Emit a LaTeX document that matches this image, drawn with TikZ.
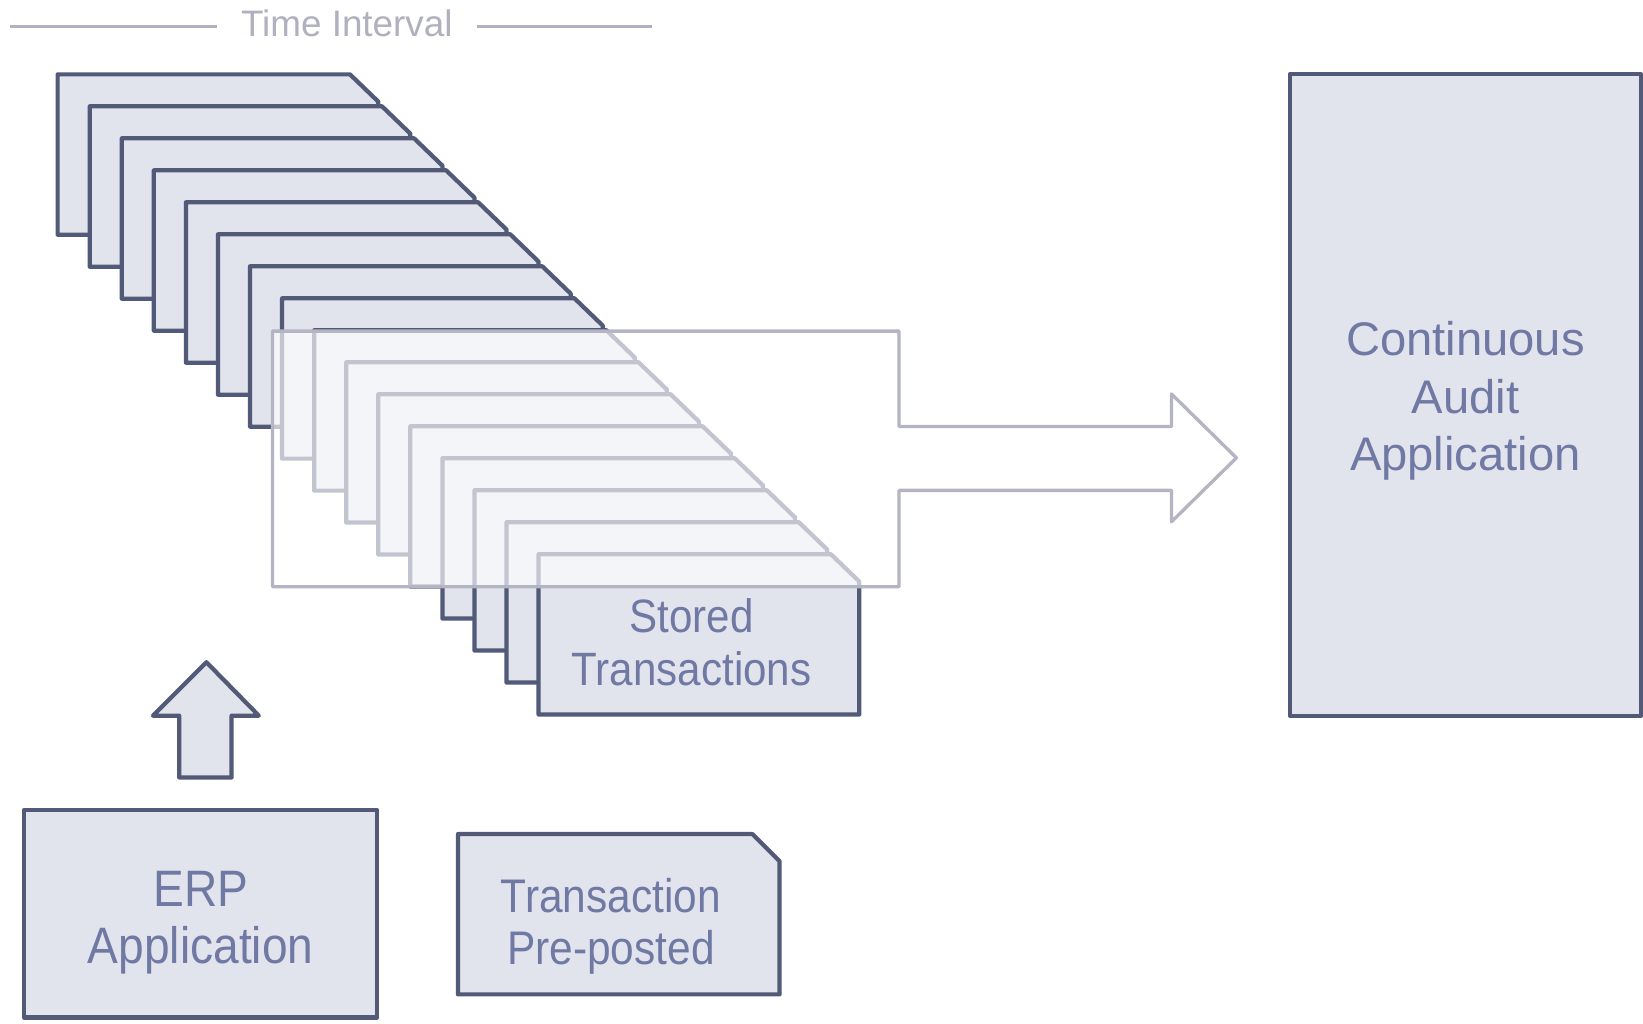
\documentclass[tikz,border=0pt]{standalone}
\usepackage{fontspec}
\setmainfont{Liberation Sans}
\newfontfamily\narrowsf[FakeStretch=0.9]{Liberation Sans}
\usepackage{tikz}
\usepackage{xcolor}
\usetikzlibrary{calc,positioning}
\definecolor{caLine}{RGB}{82,90,120}
\definecolor{caFill}{RGB}{225,228,236}
\definecolor{caText}{RGB}{112,121,164}
\definecolor{caGrey}{RGB}{180,180,194}
\definecolor{caTime}{RGB}{176,176,190}
\tikzset{
  cardbox/.style={fill=caFill, draw=caLine, line width=1.15pt, line join=round},
  ghostarrow/.style={fill=white, fill opacity=0.65, draw=caGrey, draw opacity=1,
    line width=0.9pt, line join=round},
  timeline/.style={draw=caTime, line width=0.85pt},
  captext/.style={text=caText, align=center}
}

\begin{document}
\begin{tikzpicture}[x=0.01cm,y=-0.01cm]
  \useasboundingbox (0,0) rectangle (1568,977);
  % time interval
  \node[text=caTime, inner xsep=6.3pt, font=\fontsize{10}{12}\selectfont] (ti) at (331,22) {Time Interval};
  \coordinate (tiL) at (10,25);
  \coordinate (tiR) at (622,25);
  \draw[timeline] (tiL) -- (tiL -| ti.west);
  \draw[timeline] (ti.east |- tiR) -- (tiR);
  % stack of stored transactions
  \foreach \k in {0,...,15}{
    \begin{scope}[shift={({30.6*\k},{30.53*\k})}]
      \draw[cardbox] (55,224) -- (55,71) -- (334,71) -- (361,97) -- (361,224) -- cycle;
    \end{scope}
  }
  \draw[ghostarrow] (260,316) -- (858,316) -- (858,407) -- (1118,407) -- (1118,376)
    -- (1180,437) -- (1118,498) -- (1118,468) -- (858,468) -- (858,560) -- (260,560) -- cycle;
  \node[captext, font=\narrowsf\fontsize{12.7}{14.2}\selectfont] (stored) at (660,613) {Stored\\Transactions};
  % audit application
  \node[cardbox, minimum width=3.35cm, minimum height=6.12cm] (caa) at (1398.5,377) {};
  \node[captext, font=\fontsize{12.8}{15.6}\selectfont] (caatext) at ([yshift=-1.6pt]caa.center) {Continuous\\Audit\\Application};
  % erp
  \draw[cardbox] (171,742) -- (171,683) -- (146,683) -- (197,632) -- (247,683) -- (221,683) -- (221,742) -- cycle;
  \node[cardbox, minimum width=3.37cm, minimum height=1.98cm] (erp) at (191.5,872) {};
  \node[captext, font=\narrowsf\fontsize{13.9}{15.6}\selectfont] (erptext) at ([yshift=-2.4pt]erp.center) {ERP\\Application};
  % pre-posted
  \draw[cardbox] (437,949) -- (437,796) -- (718,796) -- (744,822) -- (744,949) -- cycle;
  \node[captext, font=\narrowsf\fontsize{12.8}{14}\selectfont] (tpp) at (583,884) {Transaction\\Pre-posted};
\end{tikzpicture}
\end{document}
